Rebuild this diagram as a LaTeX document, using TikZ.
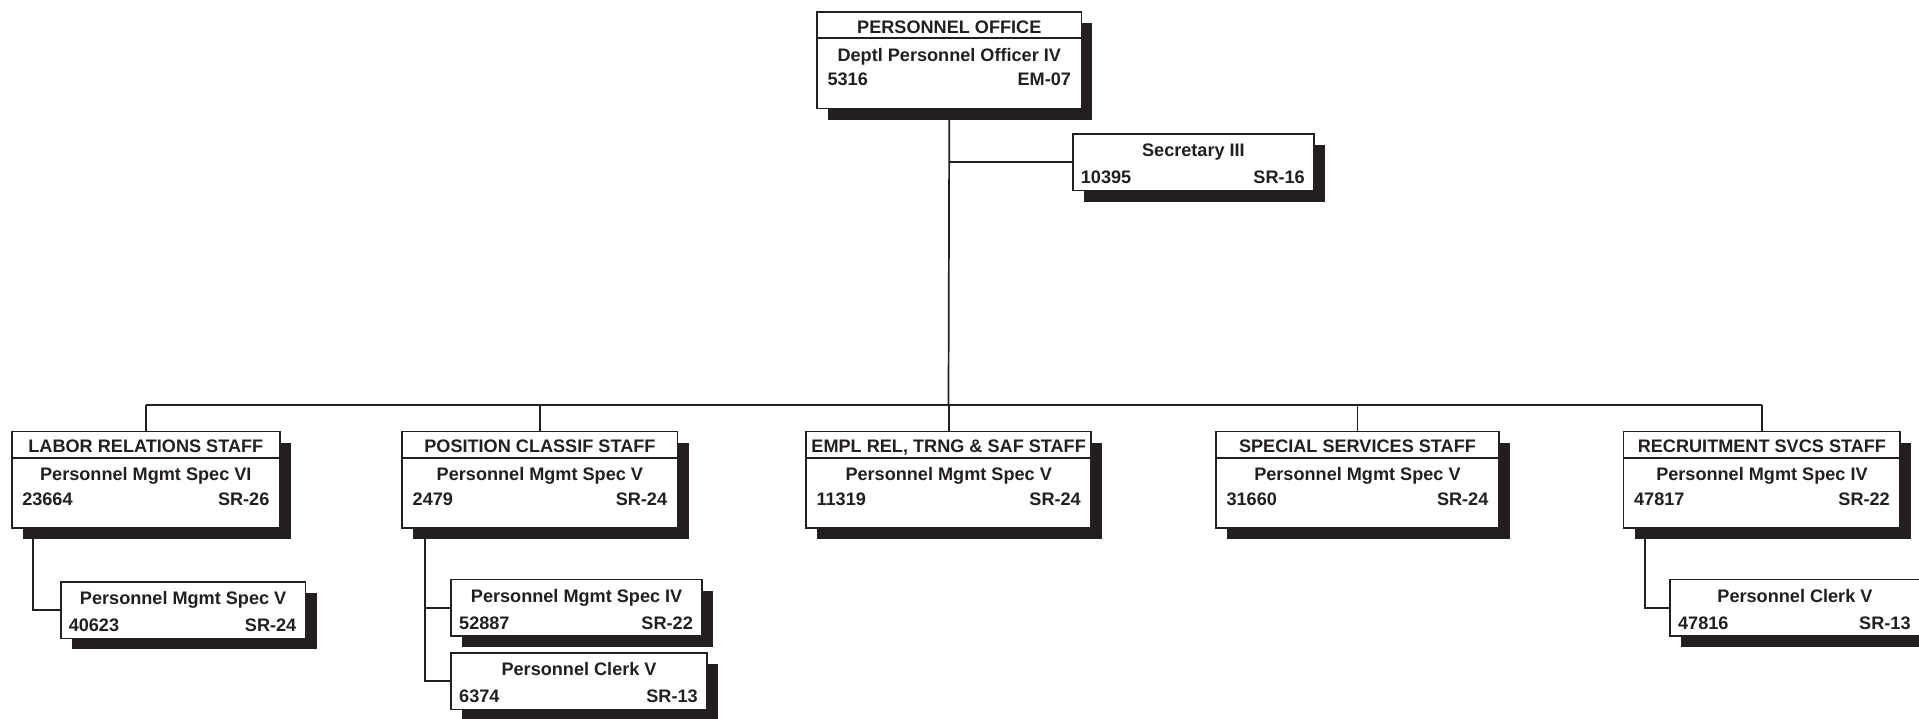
\documentclass[tikz,border=0pt]{standalone}
\usepackage{fontspec}
\setmainfont{Liberation Sans}
\usetikzlibrary{positioning, shadows, calc}
\definecolor{ink}{RGB}{35,31,32}
\tikzset{
	unit/.style={draw=ink, line width=1.3pt, fill=white, anchor=north west, inner sep=0pt,
		drop shadow={shadow xshift=9pt, shadow yshift=-9pt, fill=ink, opacity=1}},
	txt/.style={font=\fontsize{14.8}{17}\selectfont\bfseries, text=ink, inner sep=0pt, anchor=base},
	wire/.style={draw=ink, line width=1.4pt}
}
\newcommand{\bigunit}[8]{
	\node[unit, minimum width=#4pt, minimum height=79pt] (#1) at (#2,#3) {};
	\draw[wire] ([yshift=-22pt]#1.north west) -- ([yshift=-22pt]#1.north east);
	\node[txt] (#1-h) at ([yshift=-18pt]#1.north) {#5};
	\node[txt] (#1-t) at ([yshift=-41pt]#1.north) {#6};
	\node[txt, anchor=base west] (#1-n) at ([xshift=9pt, yshift=-61pt]#1.north west) {#7};
	\node[txt, anchor=base east] (#1-g) at ([xshift=-9pt, yshift=-61pt]#1.north east) {#8};
}
\newcommand{\smallunit}[7]{
	\node[unit, minimum width=#4pt, minimum height=46pt] (#1) at (#2,#3) {};
	\node[txt] (#1-t) at ([yshift=-19pt]#1.north) {#5};
	\node[txt, anchor=base west] (#1-n) at ([xshift=7pt, yshift=-41pt]#1.north west) {#6};
	\node[txt, anchor=base east] (#1-g) at ([xshift=-8pt, yshift=-41pt]#1.north east) {#7};
}

\begin{document}
\begin{tikzpicture}[x=1pt, y=-1pt]
	\useasboundingbox (0,0) rectangle (1568,587);
	\bigunit{po}{667}{9}{216}{PERSONNEL OFFICE}{Deptl Personnel Officer IV}{5316}{EM-07}
	\smallunit{sec}{876}{109}{197}{Secretary III}{10395}{SR-16}
	\bigunit{lr}{9}{352}{219}{LABOR RELATIONS STAFF}{Personnel Mgmt Spec VI}{23664}{SR-26}
	\bigunit{pc}{328}{352}{225}{POSITION CLASSIF STAFF}{Personnel Mgmt Spec V}{2479}{SR-24}
	\bigunit{er}{658}{352}{233}{EMPL REL, TRNG \& SAF STAFF}{Personnel Mgmt Spec V}{11319}{SR-24}
	\bigunit{ss}{993}{352}{231}{SPECIAL SERVICES STAFF}{Personnel Mgmt Spec V}{31660}{SR-24}
	\bigunit{rs}{1326}{352}{226}{RECRUITMENT SVCS STAFF}{Personnel Mgmt Spec IV}{47817}{SR-22}
	\smallunit{lr1}{49}{475}{200}{Personnel Mgmt Spec V}{40623}{SR-24}
	\smallunit{pc1}{368}{473}{205}{Personnel Mgmt Spec IV}{52887}{SR-22}
	\smallunit{pc2}{368}{533}{209}{Personnel Clerk V}{6374}{SR-13}
	\smallunit{rs1}{1364}{473}{204}{Personnel Clerk V}{47816}{SR-13}

	\coordinate (bus) at (775,331);
	\draw[wire] (po.south) -- (bus);
	\draw[wire] (sec.west) -- (sec.west -| po.south);
	\draw[wire] (lr.north |- bus) -- (rs.north |- bus);
	\foreach \n in {lr, pc, er, ss, rs}
		\draw[wire] (\n.north |- bus) -- (\n.north);
	\draw[wire] ([xshift=18pt]lr.south west) |- (lr1.west);
	\draw[wire] ([xshift=19pt]pc.south west) coordinate (pcv) |- (pc2.west);
	\draw[wire] (pc1.west) -- (pc1.west -| pcv);
	\draw[wire] ([xshift=18pt]rs.south west) |- (rs1.west);
\end{tikzpicture}
\end{document}
